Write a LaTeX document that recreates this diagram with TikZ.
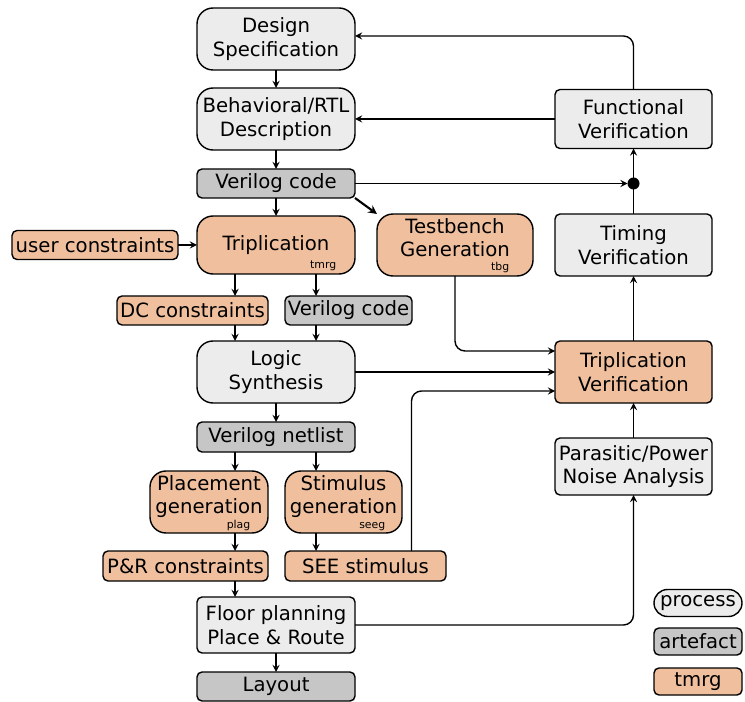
\documentclass[tikz,border=0pt]{standalone}
\usepackage{fontspec}
\setmainfont{DejaVu Sans}
\usepackage{xcolor}
\usepackage{tikz}
\usetikzlibrary{arrows, positioning, calc}

\definecolor{procgray}{RGB}{236,236,236}
\definecolor{artgray}{RGB}{198,198,198}
\definecolor{tmrgorange}{RGB}{240,192,158}

\begin{document}
\begin{tikzpicture}[font=\fontsize{11.2}{13.4}\selectfont, line width=0.8pt]
% Define styles
\tikzstyle{process} = [rectangle, rounded corners=0.32cm, minimum width=3.16cm, minimum height=1.24cm, align=center, draw=black, fill=procgray, inner sep=1pt, outer sep=0pt]
\tikzstyle{task} = [rectangle, rounded corners=0.1cm, minimum width=3.14cm, minimum height=1.24cm, align=center, draw=black, fill=procgray, inner sep=1pt, outer sep=0pt]
\tikzstyle{artefact} = [rectangle, rounded corners=0.1cm, minimum width=3.16cm, minimum height=0.58cm, align=center, draw=black, fill=artgray, inner sep=1pt, outer sep=0pt]
\tikzstyle{tmrgproc} = [process, fill=tmrgorange]
\tikzstyle{tmrgtask} = [task, fill=tmrgorange]
\tikzstyle{tmrgdata} = [artefact, fill=tmrgorange]
\tikzstyle{tagged} = [text depth=0.3cm]
\tikzstyle{tag} = [anchor=south east, inner sep=0pt, font=\fontsize{6.2}{7}\selectfont]
\tikzstyle{arrow} = [thick,->,>=stealth]
\tikzstyle{bigarrow} = [very thick,->,>=stealth]

\useasboundingbox (0,0) rectangle (14.9,-14.04);

% Design flow
\node (design) [process] at (5.52,-0.78) {Design\\Specification};
\node (behav) [process, below=0.36cm of design] {Behavioral/RTL\\Description};
\node (vcode) [artefact, below=0.38cm of behav] {Verilog code};
\node (trip) [tmrgproc, below=0.36cm of vcode, minimum height=1.16cm] {Triplication};
\node (user) [tmrgdata, left=0.38cm of trip, minimum width=3.32cm] {user constraints};
\node (tb) [tmrgproc, tagged, right=0.44cm of trip, minimum width=3.12cm] {Testbench\\Generation};
\node (dc) [tmrgdata, below=0.44cm of trip, xshift=-1.67cm, minimum width=3.02cm] {DC constraints};
\node (vcode2) [artefact, below=0.44cm of trip, xshift=1.45cm, minimum width=2.54cm] {Verilog code};
\node (logic) [process, below=1.34cm of trip] {Logic\\Synthesis};
\node (netlist) [artefact, below=0.38cm of logic, minimum height=0.6cm] {Verilog netlist};
\node (placegen) [tmrgproc, tagged, below=0.38cm of netlist, xshift=-1.34cm, minimum width=2.36cm] {Placement\\generation};
\node (stimgen) [tmrgproc, tagged, below=0.38cm of netlist, xshift=1.35cm, minimum width=2.34cm] {Stimulus\\generation};
\node (pnr) [tmrgdata, below=0.36cm of placegen, xshift=-0.47cm, minimum width=3.3cm, minimum height=0.6cm] {P\&R constraints};
\node (see) [tmrgdata, below=0.36cm of stimgen, xshift=0.44cm, minimum width=3.22cm, minimum height=0.6cm] {SEE stimulus};
\node (floor) [task, below=2.9cm of netlist, minimum width=3.16cm, minimum height=1.12cm] {Floor planning\\Place \& Route};
\node (layout) [artefact, below=0.38cm of floor] {Layout};

% Tool names
\node (triptag) [tag] at ([xshift=-0.36cm,yshift=0.06cm]trip.south east) {tmrg};
\node (tbtag) [tag] at ([xshift=-0.46cm,yshift=0.06cm]tb.south east) {tbg};
\node (placetag) [tag] at ([xshift=-0.34cm,yshift=0.03cm]placegen.south east) {plag};
\node (stimtag) [tag] at ([xshift=-0.32cm,yshift=0.03cm]stimgen.south east) {seeg};

% Verification
\node (func) [task, right=4cm of behav, minimum height=1.18cm] {Functional\\Verification};
\node (timing) [task, right=4cm of trip] {Timing\\Verification};
\node (tripver) [tmrgtask, right=4cm of logic] {Triplication\\Verification};
\node (para) [task, below=0.7cm of tripver, minimum height=1.14cm] {Parasitic/Power\\Noise Analysis};

% Legend
\node (lgproc) [process, rounded corners=0.27cm, minimum width=1.76cm, minimum height=0.54cm] at (13.96,-12.06) {process};
\node (lgart) [artefact, minimum width=1.76cm, minimum height=0.54cm] at (13.96,-12.83) {artefact};
\node (lgtmrg) [tmrgdata, minimum width=1.76cm, minimum height=0.54cm] at (13.96,-13.63) {tmrg};

% Connections
\draw [arrow] (design) -- (behav);
\draw [arrow] (behav) -- (vcode);
\draw [arrow] (vcode) -- (trip);
\draw [bigarrow] (vcode.south east) -- (tb.north west);
\draw [arrow] (user) -- (trip);
\draw [arrow] ([xshift=-0.82cm]trip.south) -- ([xshift=-0.82cm]trip.south |- dc.north);
\draw [arrow] ([xshift=0.8cm]trip.south) -- ([xshift=0.8cm]trip.south |- vcode2.north);
\draw [arrow] ([xshift=-0.82cm]trip.south |- dc.south) -- ([xshift=-0.82cm]logic.north);
\draw [arrow] ([xshift=0.8cm]trip.south |- vcode2.south) -- ([xshift=0.8cm]logic.north);
\draw [arrow] (logic) -- (netlist);
\draw [arrow] ([xshift=-0.82cm]netlist.south) -- ([xshift=-0.82cm]netlist.south |- placegen.north);
\draw [arrow] ([xshift=0.8cm]netlist.south) -- ([xshift=0.8cm]netlist.south |- stimgen.north);
\draw [arrow] ([xshift=-0.82cm]netlist.south |- placegen.south) -- ([xshift=-0.82cm]netlist.south |- pnr.north);
\draw [arrow] ([xshift=0.8cm]netlist.south |- stimgen.south) -- ([xshift=0.8cm]netlist.south |- see.north);
\draw [arrow] ([xshift=-0.82cm]netlist.south |- pnr.south) -- ([xshift=-0.82cm]floor.north);
\draw [arrow] (floor) -- (layout);

\draw [arrow] (para) -- (tripver);
\draw [arrow] (tripver) -- (timing);
\draw [arrow] (timing) -- (func);
\coordinate (join) at (timing.north |- vcode.east);
\draw [arrow, shorten >=0.12cm] (vcode.east) -- (join);
\fill (join) circle (0.12cm);
\draw [arrow, rounded corners=0.2cm] (func.north) |- ([yshift=0.06cm]design.east);
\draw [arrow] (func.west) -- (func.west -| behav.east);
\draw [arrow, rounded corners=0.2cm] (tb.south) |- ([yshift=0.42cm]tripver.west);
\draw [arrow] (logic.east) -- (logic.east -| tripver.west);
\draw [arrow, rounded corners=0.2cm] ([xshift=0.92cm]see.north) |- ([yshift=-0.38cm]tripver.west);
\draw [arrow, rounded corners=0.2cm] (floor.east) -| (para.south);

\end{tikzpicture}
\end{document}
